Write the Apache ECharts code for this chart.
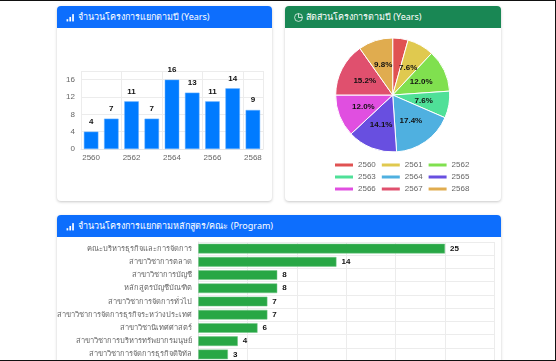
<!DOCTYPE html>
<html lang="th">
<head>
    <meta charset="UTF-8">
    <title>โครงการ</title>
    <style>
        html, body { margin: 0; padding: 0; background: #fff; overflow: hidden; }
        body { width: 556px; height: 361px; position: relative; font-family: "Noto Sans", "Liberation Sans", sans-serif; }
        .frame { position: absolute; left: 0; top: 0; width: 556px; height: 361px; box-sizing: border-box; border-top: 1px solid #111; border-right: 1px solid #111; border-bottom: 1px solid #111; z-index: 5; pointer-events: none; }
        .card { position: absolute; background: #fff; border-radius: 4px; box-shadow: 0 1px 3px rgba(0,0,0,.22); }
        .head { height: 22px; border-radius: 4px 4px 0 0; color: #fff; font-size: 9px; line-height: 22px; padding-left: 9px; white-space: nowrap; display: flex; align-items: center; gap: 3px; }
        .blue { background: #0d6efd; }
        .green { background: #198754; }
        #chart { position: absolute; left: 0; top: 0; width: 556px; height: 361px; z-index: 2; }
    </style>
    <script src="https://cdn.jsdelivr.net/npm/echarts/dist/echarts.min.js"></script>
</head>
<body>
    <div class="card" style="left:57px;top:6px;width:215px;height:195px">
        <div class="head blue"><svg width="9" height="9" viewBox="0 0 16 16" fill="#fff"><rect x="1" y="11" width="3" height="4"/><rect x="6" y="7" width="3" height="8"/><rect x="11" y="2" width="3" height="13"/></svg>จำนวนโครงการแยกตามปี (Years)</div>
    </div>
    <div class="card" style="left:285px;top:6px;width:216px;height:195px">
        <div class="head green"><svg width="9" height="9" viewBox="0 0 16 16" fill="none" stroke="#fff" stroke-width="1.3"><circle cx="8" cy="8" r="7"/><path d="M8 1v7h7"/></svg>สัดส่วนโครงการตามปี (Years)</div>
    </div>
    <div class="card" style="left:57px;top:215px;width:444px;height:170px">
        <div class="head blue"><svg width="9" height="9" viewBox="0 0 16 16" fill="#fff"><rect x="1" y="11" width="3" height="4"/><rect x="6" y="7" width="3" height="8"/><rect x="11" y="2" width="3" height="13"/></svg>จำนวนโครงการแยกตามหลักสูตร/คณะ (Program)</div>
    </div>
    <div id="chart"></div>
    <div class="frame"></div>
    <script>
        const years = ['2560', '2561', '2562', '2563', '2564', '2565', '2566', '2567', '2568'];
        const yearCounts = [4, 7, 11, 7, 16, 13, 11, 14, 9];
        const pieColors = ['#e05252', '#e0c94f', '#80e04f', '#4fe098', '#4fb0e0', '#684fe0', '#e04fe0', '#e0506e', '#e0ac4f'];
        const programs = [
            'คณะบริหารธุรกิจและการจัดการ',
            'สาขาวิชาการตลาด',
            'สาขาวิชาการบัญชี',
            'หลักสูตรบัญชีบัณฑิต',
            'สาขาวิชาการจัดการทั่วไป',
            'สาขาวิชาการจัดการธุรกิจระหว่างประเทศ',
            'สาขาวิชานิเทศศาสตร์',
            'สาขาวิชาการบริหารทรัพยากรมนุษย์',
            'สาขาวิชาการจัดการธุรกิจดิจิทัล'
        ];
        const programCounts = [25, 14, 8, 8, 7, 7, 6, 4, 3];

        const grey = '#666';
        const gridLine = { show: true, lineStyle: { color: '#ececec', width: 1 } };
        const total = yearCounts.reduce((a, b) => a + b, 0);

        const chart = echarts.init(document.getElementById('chart'));
        chart.setOption({
            animation: false,
            legend: {
                left: 328, top: 156, width: 140,
                itemWidth: 20, itemHeight: 5, itemGap: 4,
                icon: 'rect',
                textStyle: { fontSize: 8, color: grey, padding: [0, 0, 0, -1] },
                data: years
            },
            grid: [
                { left: 81, top: 71, width: 182, height: 78 },
                { left: 198.3, top: 242, width: 296, height: 120 }
            ],
            xAxis: [
                {
                    gridIndex: 0, type: 'category', data: years,
                    axisLine: { lineStyle: { color: '#e5e5e5' } }, axisTick: { show: false },
                    axisLabel: { color: grey, fontSize: 8, margin: 5 },
                    splitLine: gridLine
                },
                {
                    gridIndex: 1, type: 'value', min: 0, max: 30, interval: 5, position: 'top',
                    axisLabel: { show: false }, axisLine: { show: false }, axisTick: { show: false },
                    splitLine: gridLine
                }
            ],
            yAxis: [
                {
                    gridIndex: 0, type: 'value', min: 0, max: 18, interval: 4,
                    axisLine: { show: false }, axisTick: { show: false },
                    axisLabel: { color: grey, fontSize: 8, margin: 6, formatter: v => (v > 16 ? '' : v) },
                    splitLine: gridLine
                },
                {
                    gridIndex: 1, type: 'category', data: programs, inverse: true,
                    axisLine: { lineStyle: { color: '#e5e5e5' } }, axisTick: { show: false },
                    axisLabel: { color: grey, fontSize: 7.5, margin: 6, interval: 0 },
                    splitLine: gridLine
                }
            ],
            series: [
                {
                    type: 'bar', xAxisIndex: 0, yAxisIndex: 0, data: yearCounts, barWidth: 14.5,
                    itemStyle: { color: '#007bff', borderColor: '#66b0ff', borderWidth: 0.5 },
                    label: { show: true, position: 'top', distance: 6, color: '#111', fontSize: 8, fontWeight: 'bold', fontFamily: 'Liberation Sans' }
                },
                {
                    type: 'bar', xAxisIndex: 1, yAxisIndex: 1, data: programCounts, barWidth: 9.6,
                    itemStyle: { color: '#28a745', borderColor: '#6fc585', borderWidth: 0.5 },
                    label: { show: true, position: 'right', distance: 5, color: '#111', fontSize: 8, fontWeight: 'bold', fontFamily: 'Liberation Sans' }
                },
                {
                    type: 'pie', center: [392.7, 95], radius: [0, 57], startAngle: 90, clockwise: true,
                    data: years.map((y, i) => ({ name: y, value: yearCounts[i], itemStyle: { color: pieColors[i] } })),
                    itemStyle: { borderColor: '#fff', borderWidth: 1 },
                    labelLine: { show: false },
                    label: {
                        show: true, position: 'inside', color: '#111', fontSize: 8, fontWeight: 'bold', fontFamily: 'Liberation Sans',
                        formatter: p => (p.value / total * 100).toFixed(1) + '%'
                    }
                }
            ]
        });
    </script>
</body>
</html>
